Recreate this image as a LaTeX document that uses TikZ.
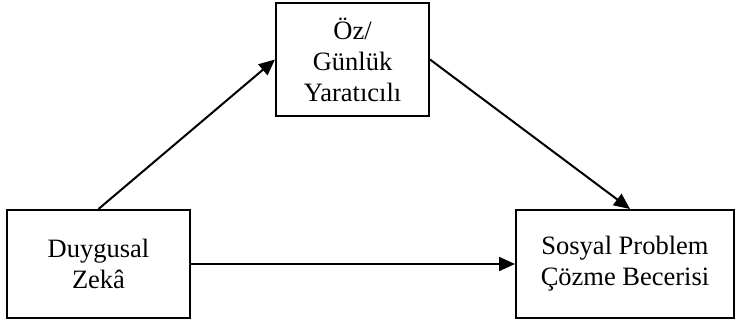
\documentclass[tikz,border=0pt]{standalone}
\usepackage{fontspec}
\setmainfont{Liberation Serif}
\usetikzlibrary{arrows.meta}

\begin{document}
\begin{tikzpicture}[x=1pt, y=-1pt, line width=2pt, >={Triangle[length=16pt, width=14pt]},
  every node/.style={rectangle, draw, align=center, inner sep=0pt, font=\fontsize{26.5}{31}\selectfont}]
\useasboundingbox (0,0) rectangle (739,325);
% Boxes
\node[minimum width=183pt, minimum height=108pt] (dz) at (98.5,264) {Duygusal\\Zekâ};
\node[minimum width=153pt, minimum height=113pt] (oy) at (352.5,59.5) {Öz/\\Günlük\\Yaratıcılı};
\node[minimum width=218pt, minimum height=108pt] (sp) at (625,264) {Sosyal Problem\\Çözme Becerisi};
% Arrows
\draw[->] (dz.north) -- (oy.west);
\draw[->] (oy.east) -- ([xshift=5pt]sp.north);
\draw[->] (dz.east) -- (sp.west);
\end{tikzpicture}
\end{document}
